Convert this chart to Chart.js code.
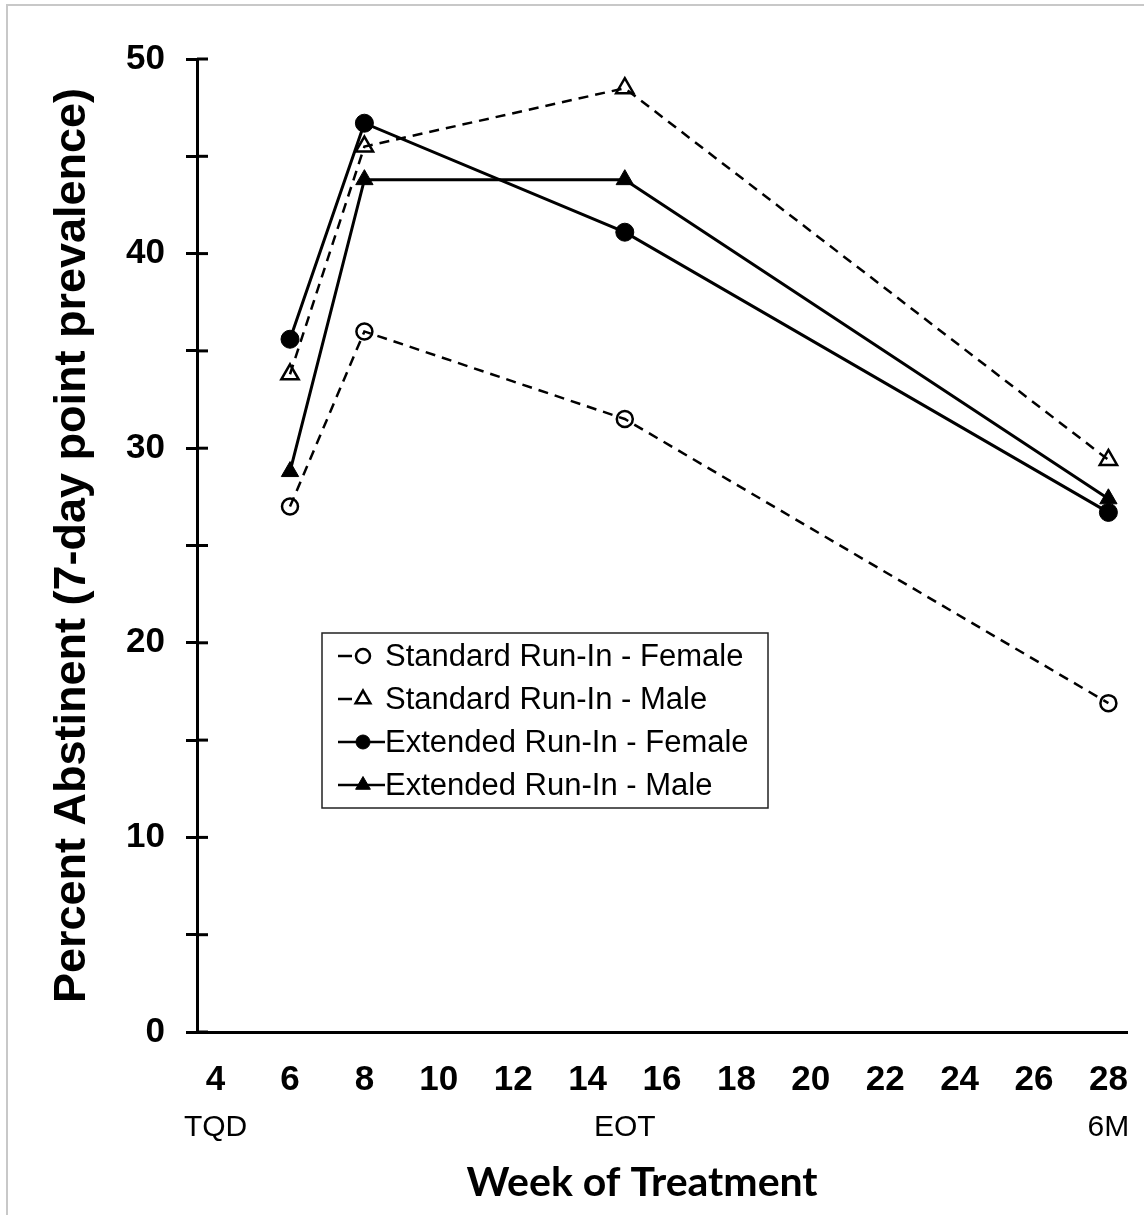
<!DOCTYPE html>
<html>
<head>
<meta charset="utf-8">
<script src="https://cdn.jsdelivr.net/npm/chart.js@4/dist/chart.umd.min.js"></script>
<style>
  body { margin: 0; background: #fff; }
  #wrap { position: relative; width: 1144px; height: 1215px; }
  #frame { position: absolute; left: 6px; top: 4px; right: 0; bottom: 0; border-left: 2px solid #c8c8c8; border-top: 2px solid #c8c8c8; }
  canvas { position: absolute; left: 0; top: 0; }
</style>
</head>
<body>
<div id="wrap">
  <div id="frame"></div>
  <canvas id="abstinence-chart" width="1144" height="1215"></canvas>
</div>
<script>
// weeks where abstinence was measured
var weeks = [6, 8, 15, 28];

var standardFemale = [27.0, 36.0, 31.5, 16.9];
var standardMale = [33.8, 45.5, 48.5, 29.4];
var extendedFemale = [35.6, 46.7, 41.1, 26.7];
var extendedMale = [28.8, 43.8, 43.8, 27.4];

var seriesLabels = [
    'Standard Run-In - Female',
    'Standard Run-In - Male',
    'Extended Run-In - Female',
    'Extended Run-In - Male'
];

var xTicks = [4, 6, 8, 10, 12, 14, 16, 18, 20, 22, 24, 26, 28];
var milestoneWeeks = [4, 15, 28];
var milestoneLabels = ['TQD', 'EOT', '6M'];
var yTicks = [0, 5, 10, 15, 20, 25, 30, 35, 40, 45, 50];

function toPoints(values) {
    return values.map((v, i) => ({ x: weeks[i], y: v }));
}

var dash = [10, 7];
var ctx = document.getElementById('abstinence-chart').getContext('2d');

// legend is drawn inside the plot area, like the original
var insideLegend = {
    id: 'insideLegend',
    afterDraw(chart) {
        var c = chart.ctx;
        c.save();
        c.lineWidth = 1.5;
        c.strokeStyle = '#222';
        c.strokeRect(322, 633, 446, 175);
        chart.data.datasets.forEach((ds, i) => {
            var y = 656 + i * 43;
            c.strokeStyle = '#000';
            c.lineWidth = 2.5;
            c.setLineDash([]);
            c.beginPath();
            c.moveTo(338, y);
            c.lineTo(ds.borderDash ? 352 : 385, y);
            c.stroke();
            c.fillStyle = ds.pointBackgroundColor;
            c.lineWidth = ds.pointBorderWidth;
            Chart.helpers.drawPoint(c, {
                pointStyle: ds.pointStyle,
                radius: ds.pointStyle === 'triangle' ? 8.5 : 7,
                borderWidth: ds.pointBorderWidth,
                rotation: 0
            }, 363, y);
            c.fillStyle = '#000';
            c.font = '31px "Liberation Sans", Arial, sans-serif';
            c.textBaseline = 'middle';
            c.textAlign = 'left';
            c.fillText(ds.label, 385, y + 1);
        });
        c.restore();
    }
};

// Excel style ticks that cross the y axis
var innerTicks = {
    id: 'innerTicks',
    afterDraw(chart) {
        var yScale = chart.scales.y;
        var c = chart.ctx;
        c.save();
        c.strokeStyle = '#000';
        c.lineWidth = 3;
        yScale.ticks.forEach(t => {
            var py = yScale.getPixelForValue(t.value);
            c.beginPath();
            c.moveTo(yScale.right, py);
            c.lineTo(yScale.right + 11, py);
            c.stroke();
        });
        c.restore();
    }
};

var abstinenceChart = new Chart(ctx, {
    type: 'line',
    data: {
        datasets: [{
            label: seriesLabels[0],
            data: toPoints(standardFemale),
            borderColor: '#000',
            borderWidth: 2.5,
            borderDash: dash,
            pointStyle: 'circle',
            pointRadius: 8,
            pointBorderWidth: 2.5,
            pointBackgroundColor: 'rgba(255,255,255,0)',
            pointBorderColor: '#000'
        }, {
            label: seriesLabels[1],
            data: toPoints(standardMale),
            borderColor: '#000',
            borderWidth: 2.5,
            borderDash: dash,
            pointStyle: 'triangle',
            pointRadius: 10,
            pointBorderWidth: 2.5,
            pointBackgroundColor: 'rgba(255,255,255,0)',
            pointBorderColor: '#000'
        }, {
            label: seriesLabels[2],
            data: toPoints(extendedFemale),
            borderColor: '#000',
            borderWidth: 3,
            pointStyle: 'circle',
            pointRadius: 9,
            pointBorderWidth: 1,
            pointBackgroundColor: '#000',
            pointBorderColor: '#000'
        }, {
            label: seriesLabels[3],
            data: toPoints(extendedMale),
            borderColor: '#000',
            borderWidth: 3,
            pointStyle: 'triangle',
            pointRadius: 10,
            pointBorderWidth: 1,
            pointBackgroundColor: '#000',
            pointBorderColor: '#000'
        }]
    },
    options: {
        responsive: false,
        animation: false,
        layout: {
            padding: { top: 59, right: 17, bottom: 0, left: 0 }
        },
        plugins: {
            legend: { display: false },
            tooltip: { enabled: false }
        },
        scales: {
            x: {
                type: 'linear',
                min: 3.5,
                max: 28.5,
                weight: 0,
                afterBuildTicks: scale => {
                    scale.ticks = xTicks.map(v => ({ value: v }));
                },
                afterFit: scale => { scale.height = 70; },
                // invisible tick marks keep the labels away from the axis
                grid: {
                    display: true,
                    drawOnChartArea: false,
                    drawTicks: true,
                    tickLength: 27,
                    tickColor: 'rgba(0,0,0,0)',
                    color: 'rgba(0,0,0,0)'
                },
                border: { display: true, color: '#000', width: 3 },
                ticks: {
                    color: '#000',
                    padding: 0,
                    maxRotation: 0,
                    autoSkip: false,
                    font: { family: '"Liberation Sans", Arial, sans-serif', size: 35, weight: 'bold' }
                }
            },
            x2: {
                type: 'linear',
                position: 'bottom',
                min: 3.5,
                max: 28.5,
                weight: 1,
                afterBuildTicks: scale => {
                    scale.ticks = milestoneWeeks.map(v => ({ value: v }));
                },
                afterFit: scale => { scale.height = 113; },
                grid: { display: false },
                border: { display: false },
                ticks: {
                    color: '#000',
                    padding: 0,
                    maxRotation: 0,
                    autoSkip: false,
                    callback: value => milestoneLabels[milestoneWeeks.indexOf(value)],
                    font: { family: '"Liberation Sans", Arial, sans-serif', size: 30 }
                },
                title: {
                    display: true,
                    text: 'Week of Treatment\u00a0\u00a0\u00a0\u00a0',
                    color: '#000',
                    padding: { top: 0, bottom: 8 },
                    font: { family: 'Lato, sans-serif', size: 41, weight: 'bold' }
                }
            },
            y: {
                min: 0,
                max: 50,
                afterBuildTicks: scale => {
                    scale.ticks = yTicks.map(v => ({ value: v }));
                },
                afterFit: scale => { scale.width = 197; },
                grid: {
                    drawOnChartArea: false,
                    drawTicks: true,
                    tickLength: 11,
                    tickWidth: 3,
                    tickColor: '#000',
                    color: '#000'
                },
                border: { display: true, color: '#000', width: 3 },
                ticks: {
                    color: '#000',
                    padding: 21,
                    callback: value => (value % 10 === 0 ? value : ''),
                    font: { family: '"Liberation Sans", Arial, sans-serif', size: 35, weight: 'bold' }
                },
                title: {
                    display: true,
                    text: 'Percent Abstinent (7-day point prevalence)',
                    color: '#000',
                    padding: { top: 46, bottom: 0 },
                    font: { family: '"Liberation Sans", Arial, sans-serif', size: 45, weight: 'bold' }
                }
            }
        }
    },
    plugins: [insideLegend, innerTicks]
});
</script>
</body>
</html>
